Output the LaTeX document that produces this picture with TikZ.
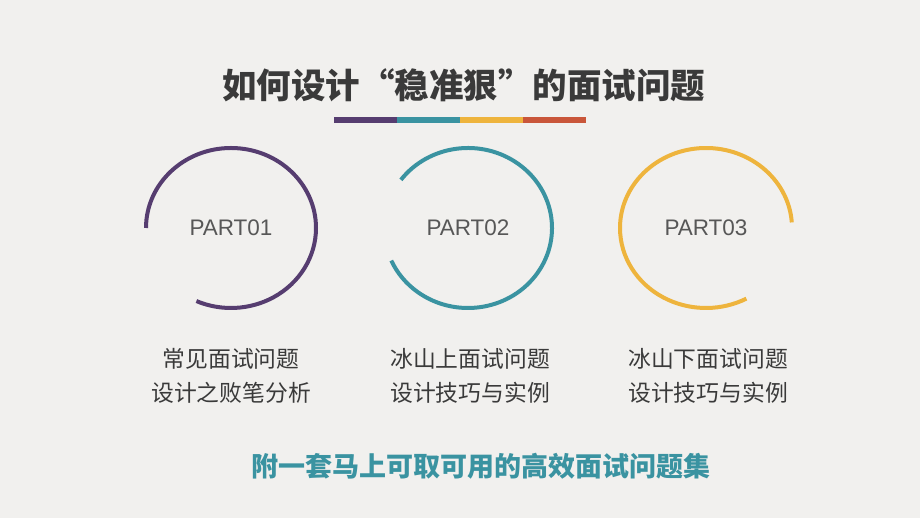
\documentclass[tikz,border=0pt]{standalone}
\usepackage{fontspec}
\setmainfont{Liberation Sans}
\newfontfamily\cjk{Noto Sans CJK SC}
\definecolor{bg}{HTML}{F1F0EE}
\definecolor{cpurple}{HTML}{563D70}
\definecolor{cteal}{HTML}{3A93A1}
\definecolor{cyellow}{HTML}{EEB43D}
\definecolor{corange}{HTML}{C9563A}
\definecolor{ink}{HTML}{3A3A3A}
\tikzset{
  partarc/.style={line width=4pt},
  partlabel/.style={text=ink!85, font=\fontsize{22.5}{26}\selectfont},
  caption/.style={text=ink, align=center, font=\cjk\fontsize{22.8}{34}\selectfont}
}
\begin{document}
\begin{tikzpicture}[x=1pt,y=1pt]
\fill[bg] (0,0) rectangle (920,518);
\useasboundingbox (0,0) rectangle (920,518);

\node[text=ink, font=\cjk\bfseries\fontsize{34.5}{38}\selectfont] (title) at (463.5,433) {如何设计“稳准狠”的面试问题};

% colour bar
\foreach \c [count=\i from 0] in {cpurple,cteal,cyellow,corange}{
	\fill[\c] (334+\i*63,394.5) rectangle (397+\i*63,401);
}

\node[partlabel] (p1) at (231,290) {PART01};
\node[partlabel] (p2) at (468,290) {PART02};
\node[partlabel] (p3) at (706,290) {PART03};

\draw[partarc, cpurple] ([shift={(180:85 and 80)}]p1.center) arc[start angle=180, end angle=-114, x radius=85, y radius=80];
\draw[partarc, cteal] ([shift={(143:84 and 80)}]p2.center) arc[start angle=143, end angle=-156, x radius=84, y radius=80];
\draw[partarc, cyellow] ([shift={(4:86 and 80)}]p3.center) arc[start angle=4, end angle=298, x radius=86, y radius=80];

\node[caption] (t1) at (231,142) {常见面试问题\\设计之败笔分析};
\node[caption] (t2) at (470,142) {冰山上面试问题\\设计技巧与实例};
\node[caption] (t3) at (708,142) {冰山下面试问题\\设计技巧与实例};

\node[text=cteal, font=\cjk\bfseries\fontsize{27}{30}\selectfont] (more) at (480.5,52) {附一套马上可取可用的高效面试问题集};
\end{tikzpicture}
\end{document}
